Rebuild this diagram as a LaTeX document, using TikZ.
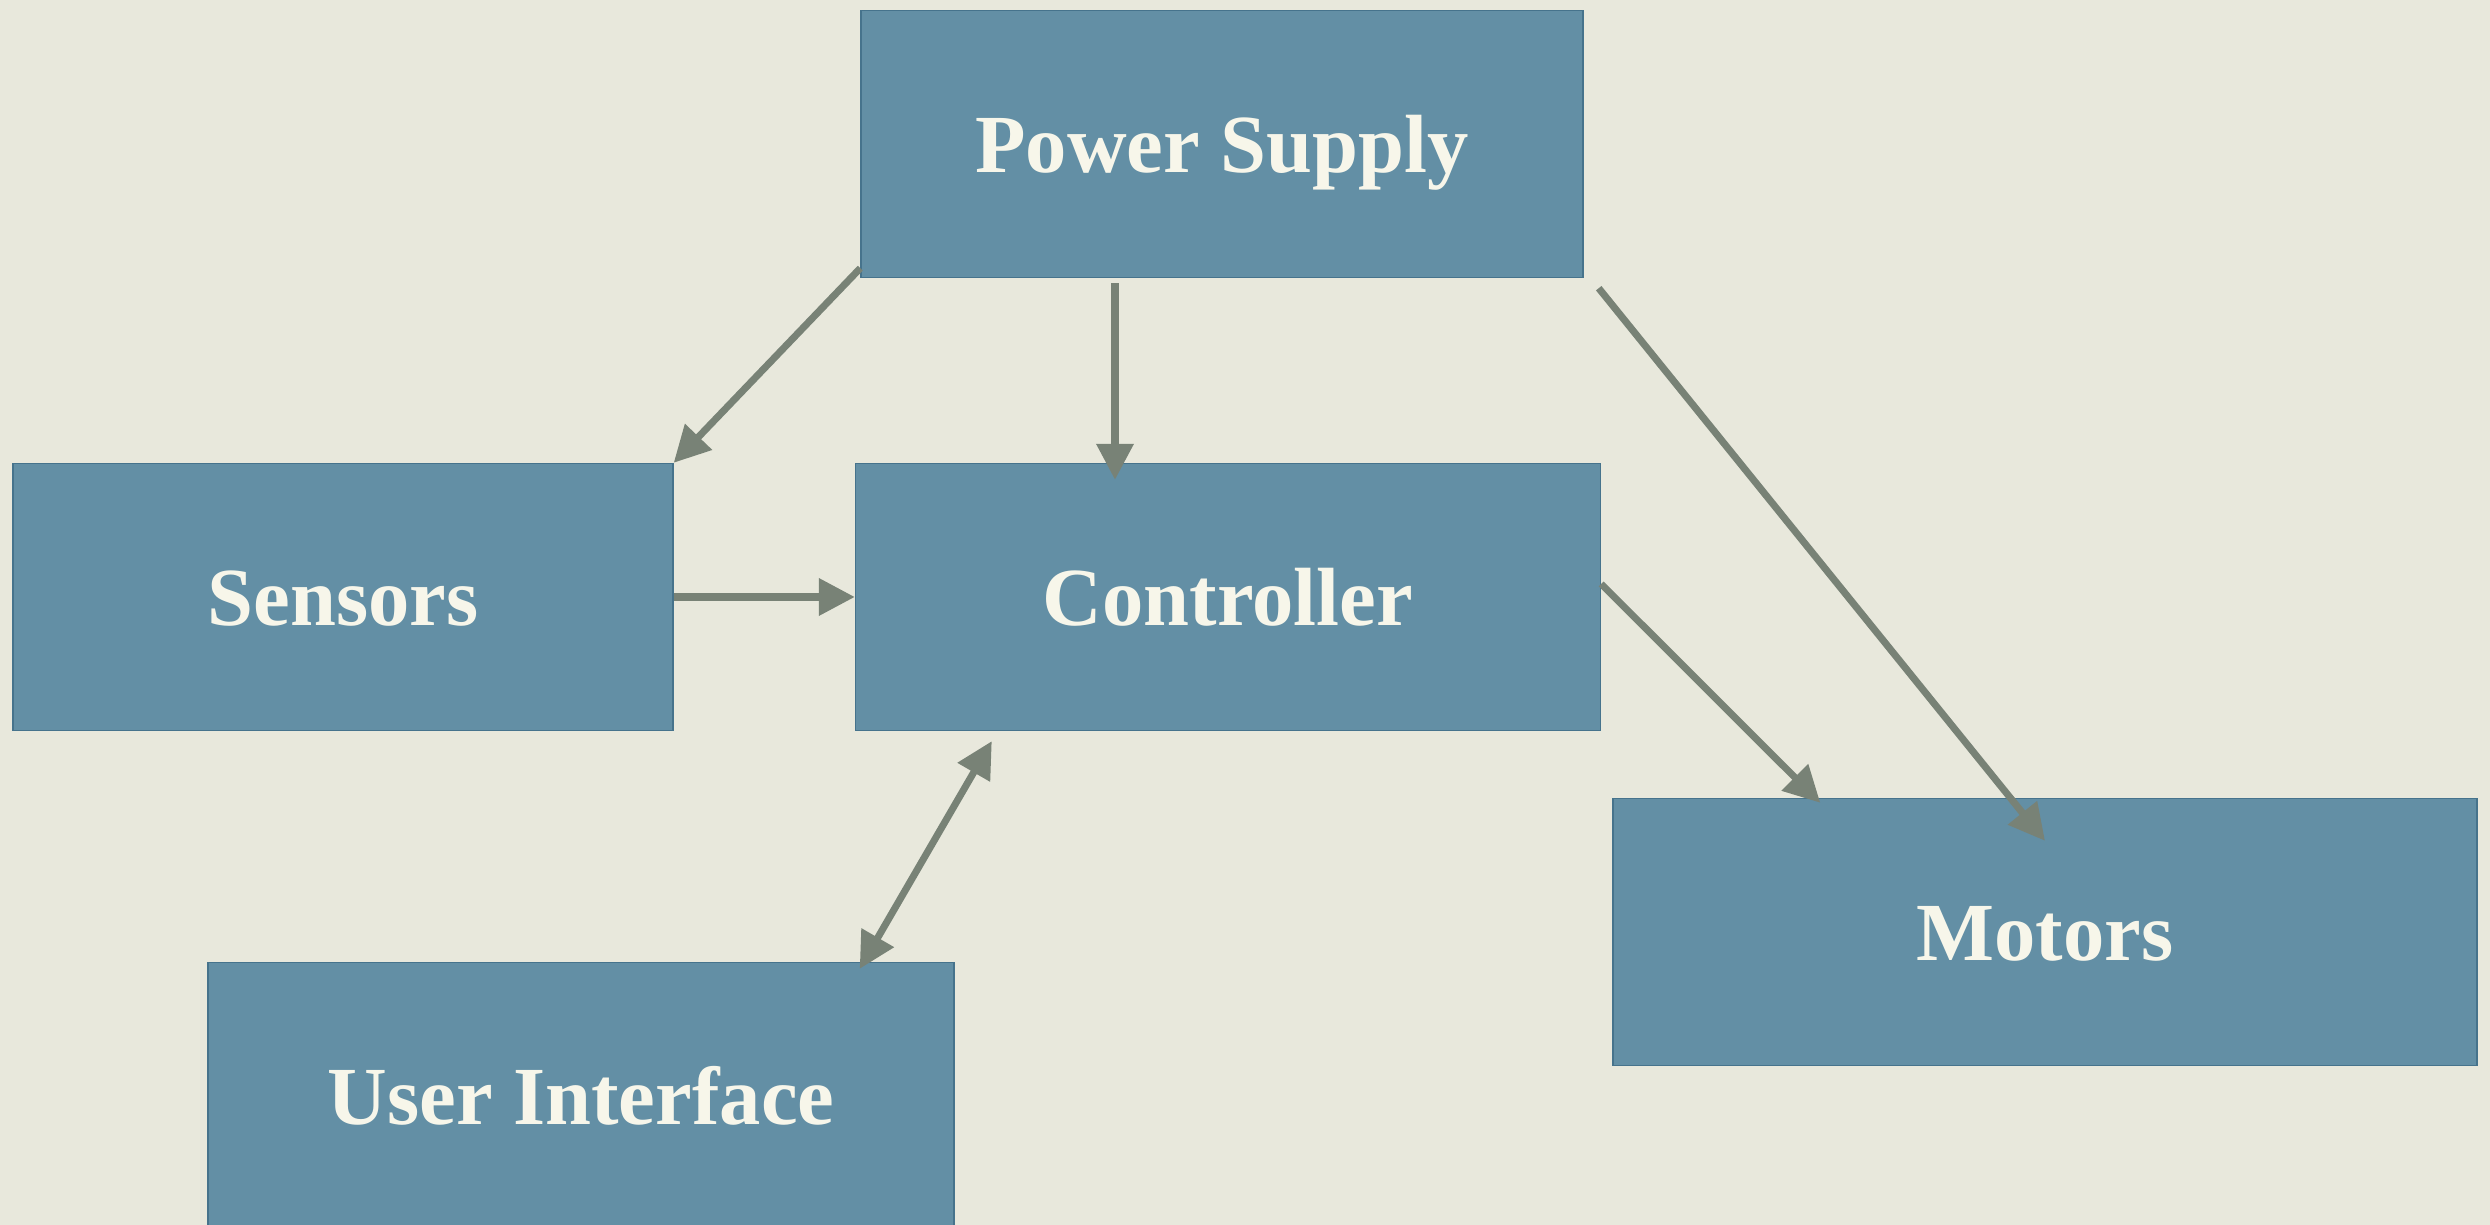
\documentclass[tikz,border=0pt]{standalone}
\usepackage{fontspec}
\setmainfont{Liberation Serif}
\usepackage{tikz}
\usetikzlibrary{arrows.meta, positioning, calc}
\definecolor{paper}{RGB}{232,232,220}
\definecolor{steel}{RGB}{99,143,165}
\definecolor{steeledge}{RGB}{70,115,140}
\definecolor{cream}{RGB}{247,246,234}
\definecolor{slate}{RGB}{120,130,118}

\begin{document}
\begin{tikzpicture}[
  box/.style={draw=steeledge, line width=0.4pt, fill=steel, text=cream,
              minimum height=2.67cm, align=center, text height=16pt, text depth=0pt,
              font=\fontsize{23.5}{28}\selectfont\bfseries},
  arr/.style={-{Triangle[length=0.36cm, width=0.36cm]}, line width=2pt, slate},
  dblarr/.style={{Triangle[length=0.36cm, width=0.36cm]}-{Triangle[length=0.36cm, width=0.36cm]}, line width=2pt, slate}
]
\fill[paper] (0,0) rectangle (24.9,-12.25);
\useasboundingbox (0,0) rectangle (24.9,-12.25);

\node[box, minimum width=7.22cm] (ps) at (12.22,-1.44) {Power Supply};
\node[box, minimum width=7.45cm] (ctrl) at (12.28,-5.97) {Controller};
\node[box, minimum width=6.60cm] (sens) at (3.43,-5.97) {Sensors};
\node[box, minimum width=8.64cm] (mot) at (20.45,-9.32) {Motors};
\node[box, minimum width=7.46cm] (ui) at (5.81,-10.96) {User Interface};

\draw[arr] ([yshift=0.1cm]ps.south west) -- (sens.north east);
\draw[arr] ([xshift=-1.07cm, yshift=-0.05cm]ps.south) -- ([xshift=-1.13cm, yshift=-0.17cm]ctrl.north);
\draw[arr] ([xshift=0.15cm, yshift=-0.1cm]ps.south east) -- ([yshift=-0.43cm]mot.north);
\draw[arr] (sens.east) -- (ctrl.west);
\draw[arr] ([yshift=0.13cm]ctrl.east) -- ([xshift=2.08cm, yshift=-0.05cm]mot.north west);
\draw[dblarr] ([xshift=1.37cm, yshift=-0.1cm]ctrl.south west) -- ([xshift=-0.95cm, yshift=-0.07cm]ui.north east);
\end{tikzpicture}
\end{document}
